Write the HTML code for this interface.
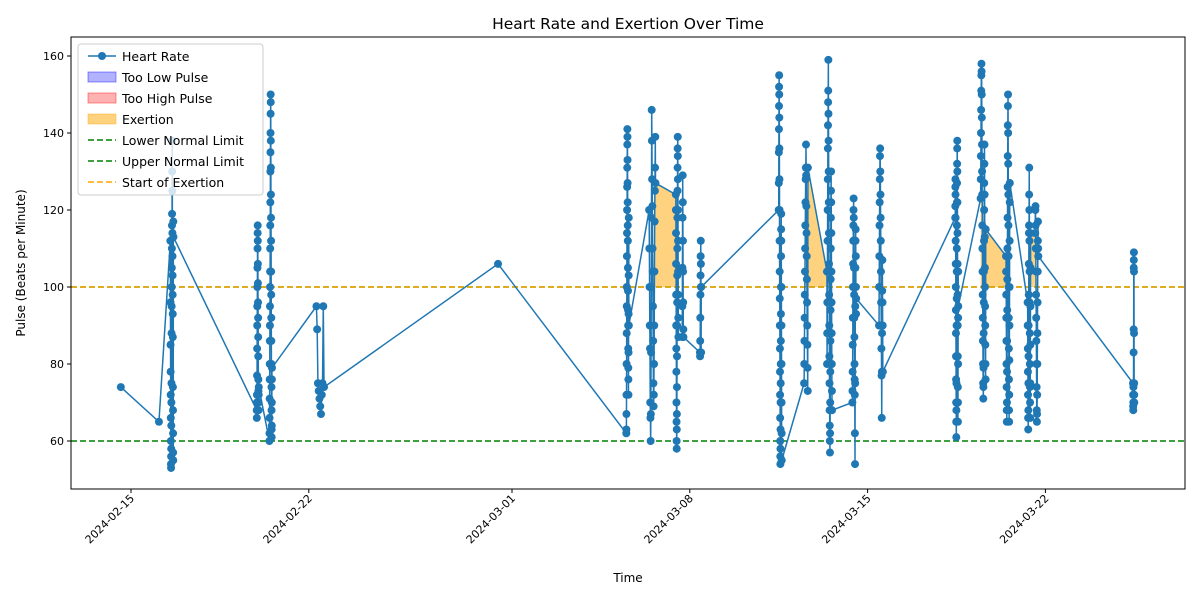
<!DOCTYPE html>
<html><head><meta charset="utf-8"><style>
body{margin:0;background:#fff;font-family:"Liberation Sans","DejaVu Sans",sans-serif}
svg text{font-family:"DejaVu Sans","Liberation Sans",sans-serif}
</style></head><body>
<svg id="chart" width="1200" height="600" xmlns="http://www.w3.org/2000/svg">
<rect width="1200" height="600" fill="#fff"/>
<text x="628" y="29" font-size="15.5" text-anchor="middle">Heart Rate and Exertion Over Time</text>
<text x="628" y="582" font-size="12" text-anchor="middle">Time</text>
<text transform="translate(25,263) rotate(-90)" font-size="12" text-anchor="middle">Pulse (Beats per Minute)</text>
<g id="plot"></g>
<rect x="71" y="37" width="1114" height="452" fill="none" stroke="#000" stroke-width="1"/>
<g id="legend"></g>
</svg>
<script>
const tickDates=["2024-02-15","2024-02-22","2024-03-01","2024-03-08","2024-03-15","2024-03-22"];
const tickDays=[0,7,15,22,29,36];
const yTicks=[60,80,100,120,140,160];
const lowerLimit=60, upperLimit=100, exertionStart=100;
const clusterDay=[-0.4,1.1,1.55,4.95,5.45,7.3,14.45,19.5,20.4,21.45,21.7,22.4,25.5,26.5,27.4,28.4,29.45,32.45,33.45,34.45,35.3,35.6,39.45];
const clusterSpan=[0,0,0.12,0.08,0.1,0.3,0,0.1,0.25,0.1,0.05,0.05,0.12,0.15,0.2,0.15,0.15,0.12,0.2,0.15,0.12,0.12,0.05];
const clusterVals=[
[74],[65],
[112,96,85,78,72,66,60,54,53,56,58,64,70,75,88,95,100,105,110,116,119,138,130,125,114,108,103,98,93,87,74,68,62,57,55,117,113],
[68,66,70,72,77,84,90,95,100,105,110,114,116,112,106,101,96,92,87,82,76,73,70,68,72,74],
[60,62,66,71,76,80,86,90,95,100,104,110,116,122,130,135,140,145,150,148,138,131,124,118,112,104,98,92,86,80,74,68,63,61,64,70,76,79],
[95,89,75,73,71,69,67,72,75,95,74],
[106],
[62,63,67,72,80,88,95,100,108,114,120,126,131,137,141,139,133,127,122,116,112,105,99,94,90,84,79,76,72,83,93,103,118,90],
[120,110,100,90,84,70,66,60,67,83,100,118,146,138,128,121,110,104,95,86,75,69,72,80,90,104,117,125,131,139,127],
[124,120,114,106,98,90,84,78,70,65,60,58,63,67,74,82,90,96,103,110,118,125,131,136,139,134,128,120,112,104,98,92,87],
[87,95,105,118,129,122,112,104,96,89,87],
[83,82,86,92,98,103,108,112,106,100,83,100],
[120,127,135,141,147,152,155,150,144,136,128,120,112,104,97,90,84,78,72,66,60,56,54,58,63,70,75,80,86,93,100,108,115,119,112,100,90,80,70,62,55],
[75,80,86,92,98,104,110,116,122,128,131,137,129,121,114,108,102,96,90,85,79,73,131],
[104,80,88,96,104,112,120,128,136,142,148,151,159,145,138,130,122,114,106,98,90,82,75,68,64,60,57,62,70,78,86,94,102,110,118,125,130,122,114,104,96,88,80,73,68],
[70,73,78,85,92,100,106,112,116,120,123,118,112,105,98,92,87,80,76,72,62,54,75,95,105,112,115,108,100,93,97],
[90,100,108,116,122,128,134,136,130,124,118,112,104,96,90,84,77,66,78,88,99,107,96,90,78],
[118,121,126,128,124,118,112,106,100,94,88,82,76,70,65,61,68,75,82,90,97,104,110,116,122,127,132,136,138,130,122,114,106,98,90,82,74,65,70,80,92,104,95],
[123,128,134,140,146,151,155,158,156,150,144,137,130,124,116,110,104,98,92,86,80,75,71,74,79,88,96,104,112,120,127,132,137,124,113,105,100,95,90,85,80,76,115],
[108,104,98,92,86,80,74,68,65,70,78,86,94,102,110,118,126,134,142,147,150,140,132,124,116,108,100,92,84,76,68,65,72,81,90,100,112,122,127],
[96,90,84,78,72,66,63,68,75,82,90,98,106,114,116,124,131,120,112,104,96,88,80,74,70,66,75,85,95,105,114],
[114,120,121,116,110,104,98,92,86,80,74,68,65,67,72,80,88,96,104,112,117,110,108],
[75,72,69,68,70,74,75,83,89,105,107,109,104,88,75,72,70]
];
const NS="http://www.w3.org/2000/svg";
const X0=71,X1=1185,Y0=37,Y1=489;
const xs=d=>131+d*25.4;
const ys=v=>441-(v-60)*3.85;
function mk(tag,attrs,parent){const e=document.createElementNS(NS,tag);for(const k in attrs)e.setAttribute(k,attrs[k]);parent.appendChild(e);return e;}
const plot=document.getElementById('plot');
const pts=[];
clusterVals.forEach((vals,i)=>{vals.forEach((v,j)=>{const t=vals.length>1?clusterDay[i]+clusterSpan[i]*j/(vals.length-1):clusterDay[i];pts.push([t,v]);});});
yTicks.forEach(v=>{const y=ys(v);
 const t=mk('line',{x1:X0-4,x2:X0,y1:y,y2:y,stroke:'#000'},plot);
 
 const l=mk('text',{x:X0-7,y:y+4,'font-size':11,'text-anchor':'end'},plot);l.textContent=v;
 });
tickDates.forEach((d,i)=>{const x=xs(tickDays[i]);
 const t=mk('line',{x1:x,x2:x,y1:Y1,y2:Y1+4,stroke:'#000'},plot);
 
 const l=mk('text',{transform:`translate(${x+4},${Y1+10}) rotate(-45)`,'font-size':11,'text-anchor':'end'},plot);l.textContent=d;
 });
// exertion fill: only segments where both consecutive points exceed threshold
for(let i=1;i<pts.length;i++){const [t0,v0]=pts[i-1],[t1,v1]=pts[i];
 if(v0>exertionStart&&v1>exertionStart){
  const f=mk('polygon',{points:`${xs(t0)},${ys(exertionStart)} ${xs(t0)},${ys(v0)} ${xs(t1)},${ys(v1)} ${xs(t1)},${ys(exertionStart)}`,fill:'orange','fill-opacity':0.5,stroke:'none'},plot);
  }}
[[lowerLimit,'green','lower-normal-limit'],[upperLimit,'green','upper-normal-limit'],[exertionStart,'orange','start-of-exertion']].forEach(r=>{
 const l=mk('line',{x1:X0,x2:X1,y1:ys(r[0]),y2:ys(r[0]),stroke:r[1],'stroke-width':1.5,'stroke-dasharray':'6,3'},plot);
 });
const line=mk('polyline',{points:pts.map(p=>xs(p[0])+','+ys(p[1])).join(' '),fill:'none',stroke:'#1f77b4','stroke-width':1.5},plot);

pts.forEach(p=>{const c=mk('circle',{cx:xs(p[0]),cy:ys(p[1]),r:4,fill:'#1f77b4'},plot);
 });
const lg=document.getElementById('legend');
mk('rect',{x:78,y:44,width:185,height:151,rx:3,fill:'#fff','fill-opacity':0.8,stroke:'#ccc'},lg);
const items=[['Heart Rate','marker'],['Too Low Pulse','patch','#0000ff'],['Too High Pulse','patch','#ff0000'],['Exertion','patch','orange'],['Lower Normal Limit','dash','green'],['Upper Normal Limit','dash','green'],['Start of Exertion','dash','orange']];
items.forEach((it,i)=>{const y=56+i*21;
 const g=mk('g',{},lg);
 
 if(it[1]==='marker'){mk('line',{x1:88,x2:116,y1:y,y2:y,stroke:'#1f77b4','stroke-width':1.5},g);mk('circle',{cx:102,cy:y,r:4,fill:'#1f77b4'},g);}
 else if(it[1]==='patch'){mk('rect',{x:88,y:y-5,width:28,height:10,fill:it[2],'fill-opacity':it[2]==='orange'?0.5:0.3,stroke:it[2],'stroke-opacity':0.4},g);}
 else mk('line',{x1:88,x2:116,y1:y,y2:y,stroke:it[2],'stroke-width':1.5,'stroke-dasharray':'6,3'},g);
 const t=mk('text',{x:122,y:y+5,'font-size':12.5},g);t.textContent=it[0];});
</script>
</body></html>
